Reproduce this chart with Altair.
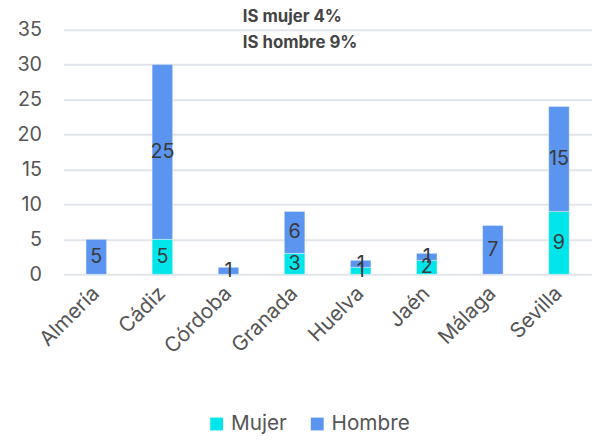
import altair as alt
import pandas as pd

provincias = ["Almería", "Cádiz", "Córdoba", "Granada", "Huelva", "Jaén", "Málaga", "Sevilla"]
mujer = [0, 5, 0, 3, 1, 2, 0, 9]
hombre = [5, 25, 1, 6, 1, 1, 7, 15]
series = ["Mujer", "Hombre"]
colores = ["#00E5EA", "#5B95F0"]
titulo = ["IS mujer 4%", "IS hombre 9%"]
ticks_y = [0, 5, 10, 15, 20, 25, 30, 35]

rows = []
for i, p in enumerate(provincias):
    rows.append({"prov": p, "serie": "Mujer", "ord": 0, "valor": mujer[i]})
    rows.append({"prov": p, "serie": "Hombre", "ord": 1, "valor": hombre[i]})
df = pd.DataFrame(rows)

FONT = "Inter"

base = alt.Chart(df).transform_stack(
    stack="valor", groupby=["prov"], as_=["y0", "y1"], sort=[alt.SortField("ord")]
).transform_calculate(mid="(datum.y0 + datum.y1) / 2")

xaxis = alt.Axis(labelAngle=-45, labelAlign="right", labelBaseline="middle",
                 labelFontSize=21, labelColor="#555555", labelFont=FONT,
                 ticks=False, domain=False, labelPadding=16)
xscale = alt.Scale(paddingInner=0.69, paddingOuter=0.345)
yscale = alt.Scale(domain=[0, 35], nice=False)
yaxis = alt.Axis(values=ticks_y, labelFontSize=20, labelColor="#555555", labelFont=FONT,
                 ticks=False, domain=False, gridColor="#E1E5EA", gridWidth=2,
                 labelPadding=22, labelOverlap=False)

bars = base.mark_bar(stroke="#ffffff", strokeOpacity=0.35, strokeWidth=1).encode(
    x=alt.X("prov:N", sort=provincias, title=None, scale=xscale, axis=xaxis),
    y=alt.Y("y0:Q", title=None, scale=yscale, axis=yaxis),
    y2="y1:Q",
    color=alt.Color("serie:N", scale=alt.Scale(domain=series, range=colores), title=None,
                    legend=alt.Legend(orient="none", legendX=145, legendY=389,
                                      direction="horizontal", symbolType="square",
                                      symbolSize=170, symbolStrokeWidth=0, labelFontSize=21,
                                      labelColor="#555555", labelFont=FONT, columnPadding=20)),
)

labels = base.transform_filter("datum.valor > 0").mark_text(
    fontSize=20, color="#3A3A3A", font=FONT, baseline="middle", align="center"
).encode(
    x=alt.X("prov:N", sort=provincias, title=None, scale=xscale, axis=xaxis),
    y=alt.Y("mid:Q", title=None, scale=yscale, axis=yaxis),
    text=alt.Text("valor:Q"),
)

chart = (bars + labels).properties(
    width=536, height=248,
    autosize=alt.AutoSizeParams(type="none"),
    padding={"left": 56, "top": 19, "right": 0, "bottom": 166},
    title=alt.TitleParams(text=titulo, anchor="start", align="left", dx=182, offset=-33,
                          baseline="top", fontSize=17, fontWeight="bold", color="#444444",
                          font=FONT, lineHeight=27, frame="group"),
).configure_view(stroke=None)

chart.save("out.html", embed_options={"renderer": "svg", "actions": False})
